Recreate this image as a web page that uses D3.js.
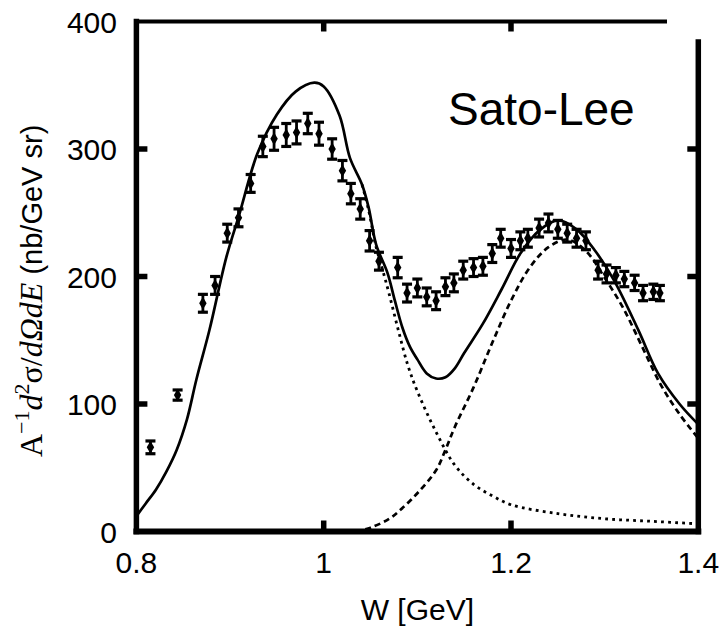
<!DOCTYPE html>
<html><head><meta charset="utf-8">
<script src="https://cdn.jsdelivr.net/npm/d3@7"></script>
<style>html,body{margin:0;padding:0;background:#fff}svg{display:block}</style>
</head><body><svg id="c" width="723" height="631"></svg>
<script>
// ---- data ----
const dataW = [0.815,0.844,0.871,0.884,0.897,0.909,0.922,0.935,0.947,0.960,0.971,0.983,0.995,1.009,1.020,1.029,1.039,1.049,1.059,1.079,1.089,1.100,1.110,1.120,1.130,1.139,1.149,1.160,1.170,1.180,1.189,1.200,1.210,1.218,1.230,1.240,1.250,1.260,1.270,1.280,1.293,1.302,1.312,1.321,1.332,1.341,1.352,1.359];
const dataV = [66,107,179,193,234,246,273,302,308,311,313,320,312,300,283,265,253,228,212,207,187,191,184,181,192,195,205,207,208,218,230,222,228,230,238,242,237,234,230,228,205,202,201,198,195,187,188,187];
const dataErr = [5,4,7,7,7,7,7,8,9,9,9,8,9,8,8,8,8,8,7,8,7,7,7,7,7,7,7,7,7,7,7,7,7,7,7,7,7,7,7,7,7,7,6,6,6,6,6,6];

const totalW = [0.80,0.81,0.821,0.832,0.843,0.854,0.864,0.878,0.896,0.91,0.929,0.95,0.97,0.99,1.00,1.017,1.028,1.041,1.048,1.056,1.068,1.076,1.084,1.092,1.10,1.11,1.12,1.13,1.14,1.15,1.17,1.19,1.21,1.23,1.25,1.27,1.29,1.31,1.336,1.357,1.38,1.40];
const totalV = [12,22,33,47,64,88,119,158,215,249,296,327,345,352,349,326,293,272,254,225,203,181,160,145,135,124,120,121,128,140,163,190,218,236,244,237,220,197,158,124,100,84];

const qeW = [1.041,1.048,1.056,1.063,1.07,1.08,1.09,1.10,1.12,1.14,1.16,1.18,1.20,1.25,1.30,1.35,1.40];
const qeV = [272,252,223,205,186,157,130,110,78,52,37,28,21,14,10,8,6];

const resW = [1.034,1.05,1.07,1.082,1.10,1.12,1.13,1.14,1.16,1.18,1.20,1.22,1.24,1.26,1.28,1.30,1.32,1.34,1.36,1.38,1.40];
const resV = [0,3,10,17,30,48,64,82,113,148,181,207,223,229,220,199,175,145,115,92,73];

const xTicks = [0.8,1.0,1.2,1.4];
const xTickLabels = ["0.8","1","1.2","1.4"];
const yTicks = [0,100,200,300,400];
const modelLabel = "Sato-Lee";

// ---- drawing ----
const svg = d3.select("#c");
const x = d3.scaleLinear().domain([0.8,1.4]).range([136.4,698.3]);
const y = d3.scaleLinear().domain([0,400]).range([531.5,21.5]);

const line = d3.line().x(d=>x(d[0])).y(d=>y(d[1])).curve(d3.curveCatmullRom.alpha(0.5));
const zip = (a,b)=>a.map((v,i)=>[v,b[i]]);

const plot = svg.append("g");
plot.append("path").datum(zip(qeW,qeV)).attr("d",line)
  .attr("fill","none").attr("stroke","#000").attr("stroke-width",2.8)
  .attr("stroke-dasharray","2.8,4.2");
plot.append("path").datum(zip(resW,resV)).attr("d",line)
  .attr("fill","none").attr("stroke","#000").attr("stroke-width",2.7)
  .attr("stroke-dasharray","6,4");
plot.append("path").datum(zip(totalW,totalV)).attr("d",line)
  .attr("fill","none").attr("stroke","#000").attr("stroke-width",2.7);

// data points
const pts = plot.append("g").selectAll("g").data(dataW.map((w,i)=>({w,v:dataV[i],e:dataErr[i]}))).join("g");
pts.append("line").attr("x1",d=>x(d.w)).attr("x2",d=>x(d.w))
  .attr("y1",d=>y(d.v-d.e)).attr("y2",d=>y(d.v+d.e)).attr("stroke","#000").attr("stroke-width",2.8);
pts.append("line").attr("x1",d=>x(d.w)-5).attr("x2",d=>x(d.w)+5)
  .attr("y1",d=>y(d.v+d.e)).attr("y2",d=>y(d.v+d.e)).attr("stroke","#000").attr("stroke-width",3.2);
pts.append("line").attr("x1",d=>x(d.w)-5).attr("x2",d=>x(d.w)+5)
  .attr("y1",d=>y(d.v-d.e)).attr("y2",d=>y(d.v-d.e)).attr("stroke","#000").attr("stroke-width",3.2);
pts.append("path").attr("d",d3.symbol(d3.symbolDiamond,48))
  .attr("transform",d=>`translate(${x(d.w)},${y(d.v)})`).attr("fill","#000");

// frame
const fr = svg.append("g").attr("stroke","#000").attr("stroke-linecap","square");
fr.append("line").attr("x1",x(0.8)).attr("x2",x(0.8)).attr("y1",y(400)).attr("y2",y(0)).attr("stroke-width",5.5);
fr.append("line").attr("x1",x(0.8)).attr("x2",x(1.4)).attr("y1",y(0)).attr("y2",y(0)).attr("stroke-width",6);
fr.append("line").attr("x1",x(0.8)).attr("x2",667).attr("y1",y(400)).attr("y2",y(400)).attr("stroke-width",4).attr("stroke-linecap","butt");
fr.append("line").attr("x1",x(1.4)).attr("x2",x(1.4)).attr("y1",42).attr("y2",y(0)).attr("stroke-width",5.5);

// ticks (inward, mirrored)
const tk = svg.append("g").attr("stroke","#000").attr("stroke-width",5.5);
xTicks.slice(1,-1).forEach(t=>{
  tk.append("line").attr("x1",x(t)).attr("x2",x(t)).attr("y1",y(0)).attr("y2",y(0)-11);
  tk.append("line").attr("x1",x(t)).attr("x2",x(t)).attr("y1",y(400)).attr("y2",y(400)+10);
});
yTicks.slice(1,-1).forEach(t=>{
  tk.append("line").attr("x1",x(0.8)).attr("x2",x(0.8)+11).attr("y1",y(t)).attr("y2",y(t));
  tk.append("line").attr("x1",x(1.4)).attr("x2",x(1.4)-11).attr("y1",y(t)).attr("y2",y(t));
});

// tick labels
const font = "'Liberation Sans', Arial, sans-serif";
svg.append("g").selectAll("text").data(xTicks).join("text")
  .attr("x",d=>x(d)).attr("y",573).attr("text-anchor","middle")
  .attr("font-family",font).attr("font-size",30).attr("fill","#000")
  .text((d,i)=>xTickLabels[i]);
svg.append("g").selectAll("text").data(yTicks).join("text")
  .attr("x",117).attr("y",d=>y(d)+11).attr("text-anchor","end")
  .attr("font-family",font).attr("font-size",30).attr("fill","#000")
  .text(d=>d);

// axis titles
svg.append("text").attr("x",x(1.1)).attr("y",620).attr("text-anchor","middle")
  .attr("font-family",font).attr("font-size",30).attr("fill","#000").text("W [GeV]");

const yl = svg.append("text").attr("transform","translate(42,457) rotate(-90)")
  .attr("text-anchor","start").attr("font-size",32).attr("fill","#000")
  .attr("font-family","'Liberation Serif', 'DejaVu Serif', serif");
yl.append("tspan").text("A");
yl.append("tspan").attr("font-size",22).attr("dy",-13).text("\u22121");
yl.append("tspan").attr("dy",13).attr("font-style","italic").text("d");
yl.append("tspan").attr("font-size",22).attr("dy",-13).text("2");
yl.append("tspan").attr("dy",13).text("\u03c3/");
yl.append("tspan").attr("font-style","italic").text("d\u03a9dE");
yl.append("tspan").attr("font-family",font).attr("font-size",29).text(" (nb/GeV sr)");

// model label
svg.append("text").attr("x",448).attr("y",125).attr("font-family",font)
  .attr("font-size",46).attr("fill","#000").text(modelLabel);
</script></body></html>
